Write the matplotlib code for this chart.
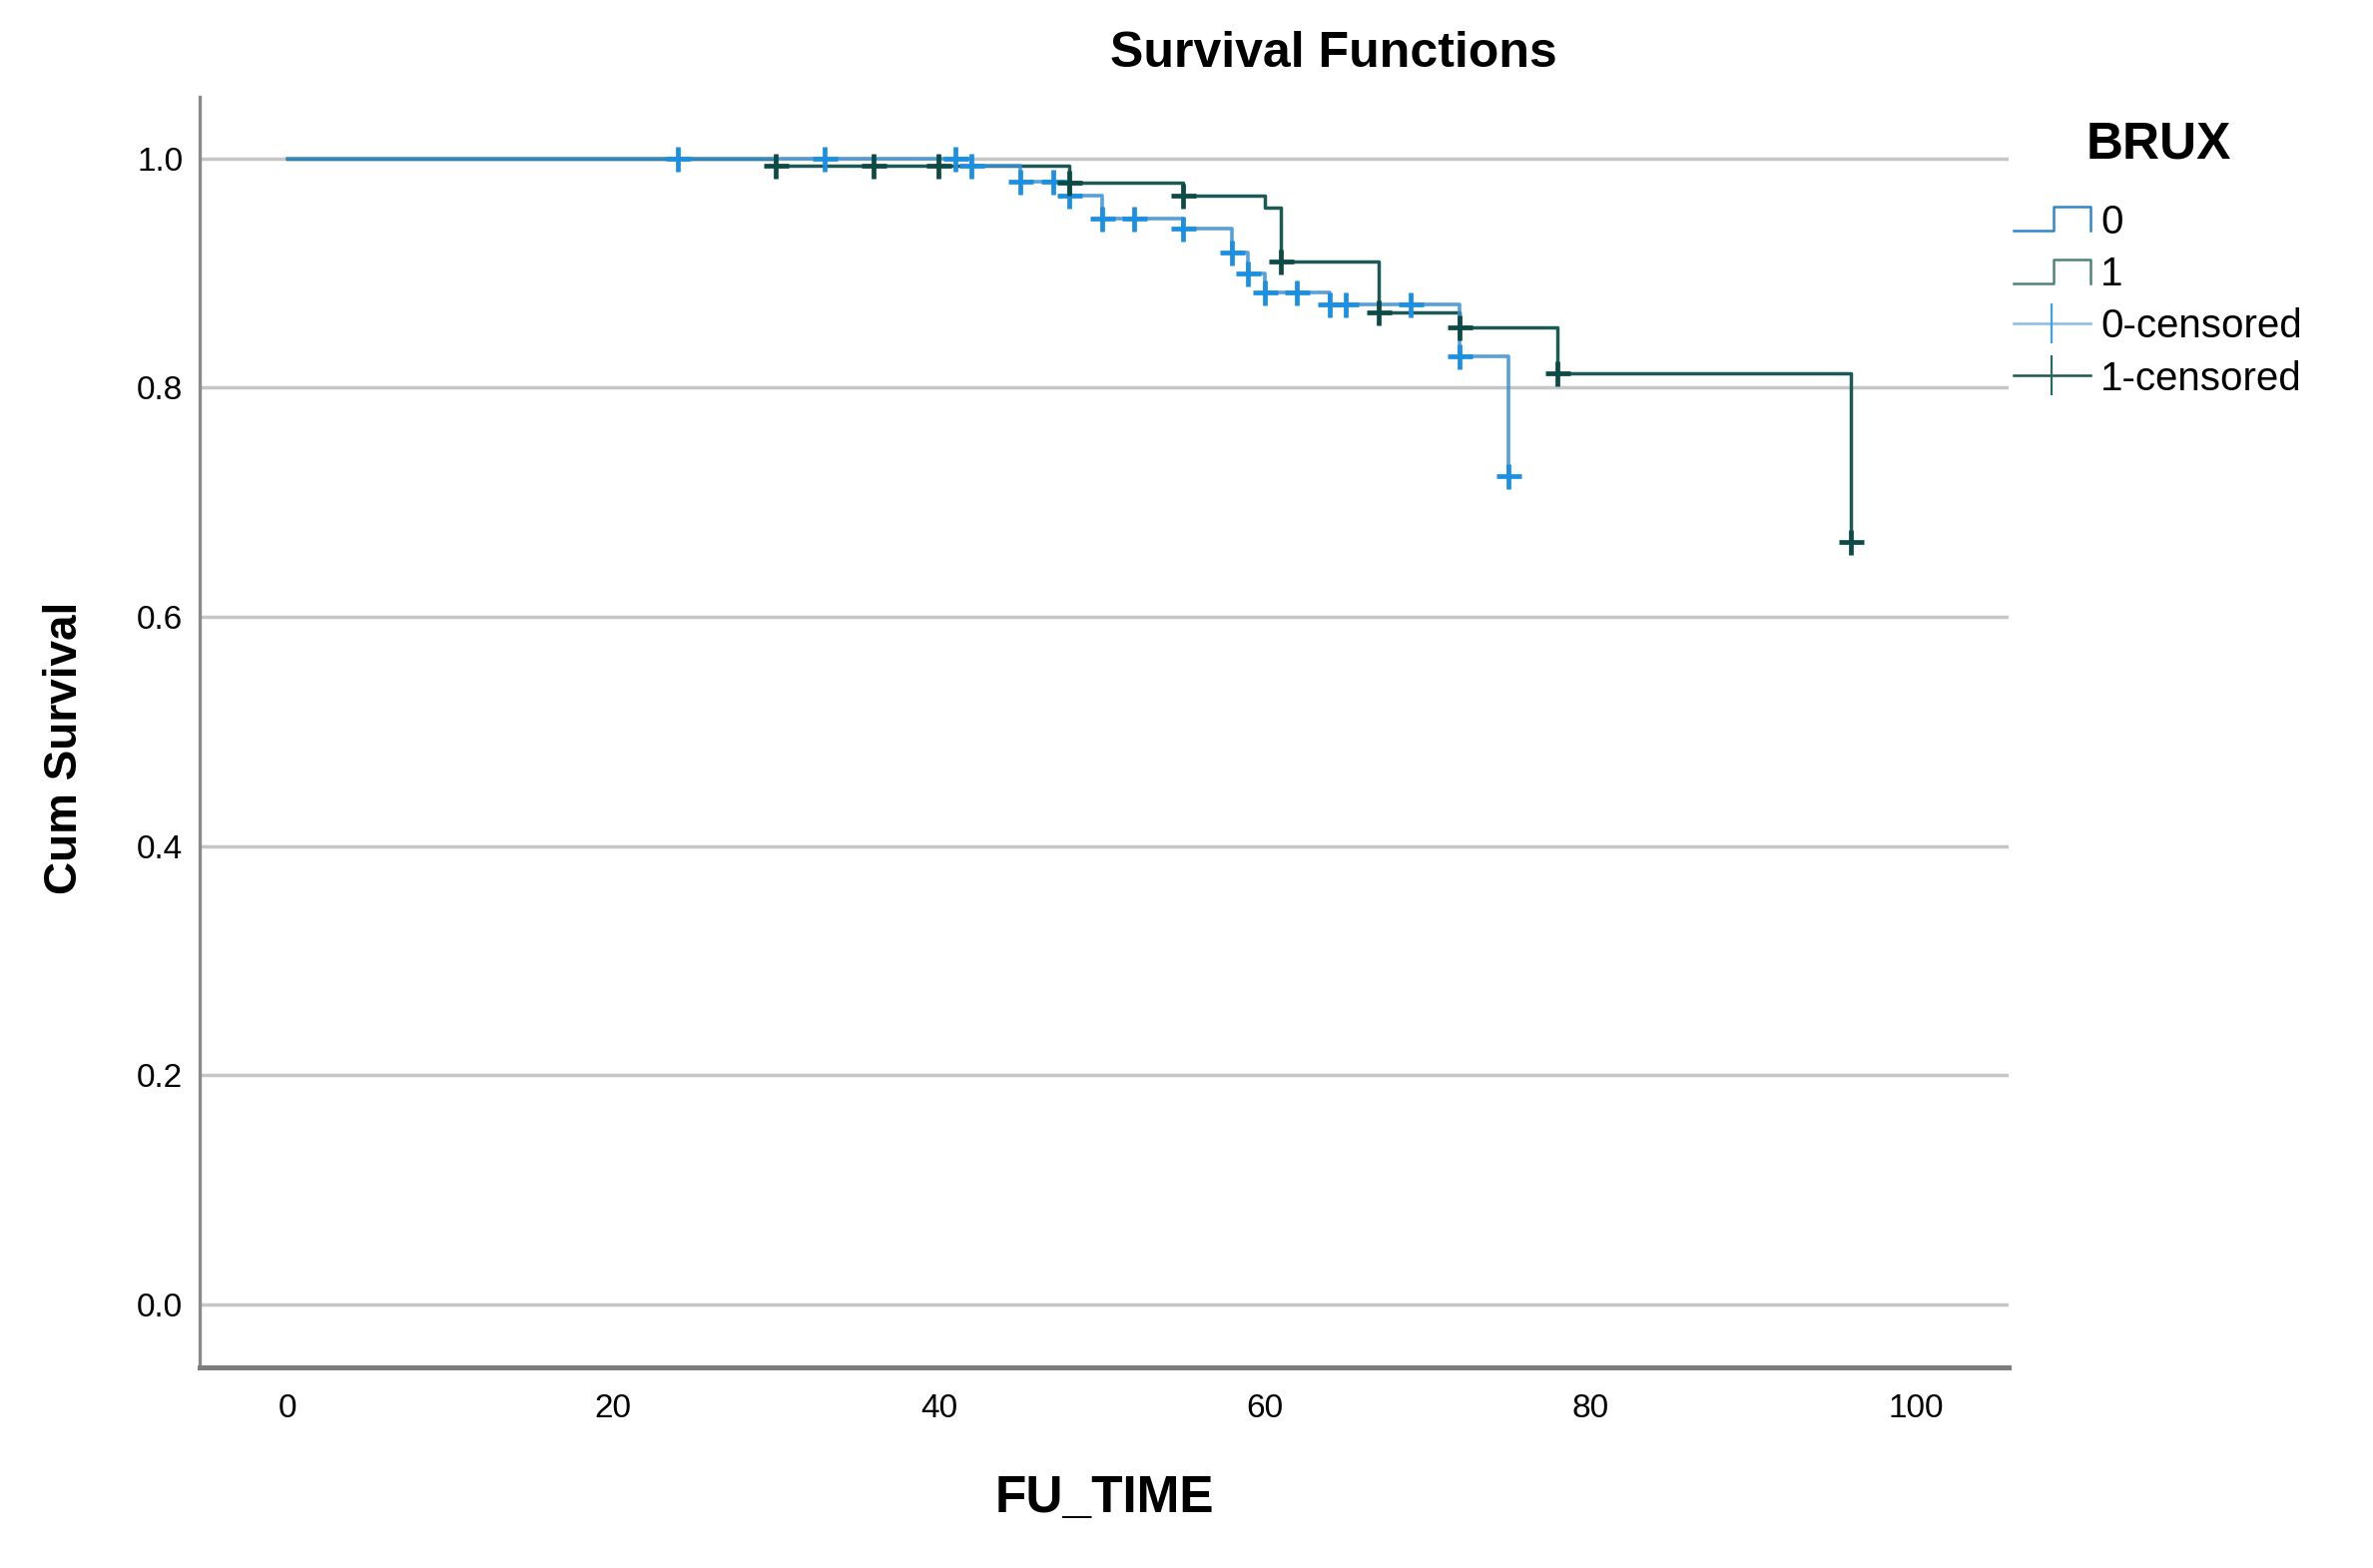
import numpy as np
import matplotlib
matplotlib.use('Agg')
import matplotlib.pyplot as plt
from matplotlib.lines import Line2D
from matplotlib.legend_handler import HandlerBase

tiempo_0 = [0, 42, 45, 48, 50, 55, 58, 59, 60, 64, 72, 75]
superv_0 = [1.0, 0.994, 0.980, 0.968, 0.948, 0.939, 0.918, 0.900, 0.883, 0.873, 0.827, 0.723]
censura_0 = [24, 33, 41, 42, 45, 47, 48, 50, 52, 55, 58, 59, 60, 62, 64, 65, 69, 72, 75]

tiempo_1 = [0, 30, 48, 55, 60, 61, 67, 72, 78, 96]
superv_1 = [1.0, 0.994, 0.979, 0.968, 0.957, 0.910, 0.866, 0.853, 0.813, 0.665]
censura_1 = [30, 36, 40, 48, 55, 61, 67, 72, 78, 96]

ticks_x = [0, 20, 40, 60, 80, 100]
ticks_y = [0.0, 0.2, 0.4, 0.6, 0.8, 1.0]
etiquetas = ['0', '1', '0-censored', '1-censored']

azul_linea = '#3a90d4'
azul_marca = '#1b8fe2'
verde_linea = '#1d5a56'
verde_marca = '#0c4a45'

plt.rcParams['font.family'] = ['Liberation Sans', 'DejaVu Sans']


def valor_en(tiempos, valores, t):
    # valor de la curva escalonada en el tiempo t
    idx = np.searchsorted(tiempos, t, side='right') - 1
    return np.array(valores)[idx]


class HandlerEscalon(HandlerBase):
    # dibuja el simbolo de escalon de la leyenda al estilo SPSS
    def create_artists(self, legend, orig_handle, xdescent, ydescent,
                       width, height, fontsize, trans):
        x0 = -xdescent
        bajo = -ydescent + 0.1 * height
        alto = -ydescent + 0.95 * height
        xs = [x0, x0 + 0.52 * width, x0 + 0.52 * width, x0 + width, x0 + width]
        ys = [bajo, bajo, alto, alto, bajo]
        linea = Line2D(xs, ys, color=orig_handle.get_color(),
                       lw=orig_handle.get_linewidth(), transform=trans)
        return [linea]


fig = plt.figure(figsize=(23.77, 15.71), dpi=100)
ax = fig.add_axes([0.0841, 0.128, 0.7624, 0.8103])

# lineas de la cuadricula
for yv in ticks_y:
    ax.axhline(yv, color='#c6c6c6', lw=2.5, zorder=1)

# curvas de supervivencia
ax.step(tiempo_1, superv_1, where='post', color=verde_linea, lw=2.5, zorder=3)
ax.step(tiempo_0, superv_0, where='post', color=azul_linea, lw=2.6, alpha=0.85, zorder=4)

# marcas de censura
ax.plot(censura_0, valor_en(tiempo_0, superv_0, censura_0), linestyle='none',
        marker='+', markersize=18, markeredgewidth=3.4, color=azul_marca, zorder=5)
ax.plot(censura_1, valor_en(tiempo_1, superv_1, censura_1), linestyle='none',
        marker='+', markersize=18, markeredgewidth=3.4, color=verde_marca, zorder=6)

ax.set_xlim(-5.4, 105.7)
ax.set_ylim(-0.055, 1.054)
ax.set_xticks(ticks_x)
ax.set_yticks(ticks_y)
ax.set_yticklabels(['%.1f' % v for v in ticks_y])
ax.tick_params(axis='both', length=0, labelsize=24)
ax.tick_params(axis='x', pad=19)
ax.tick_params(axis='y', pad=12)

ax.spines['top'].set_visible(False)
ax.spines['right'].set_visible(False)
ax.spines['left'].set_color('#8a8a8a')
ax.spines['left'].set_linewidth(2.4)
ax.spines['bottom'].set_color('#7d7d7d')
ax.spines['bottom'].set_linewidth(3.6)

# textos
fig.text(0.562, 0.9656, 'Survival Functions', ha='center', va='center',
         fontsize=36, fontweight='bold')
fig.text(0.0841 + 0.7624 / 2, 0.044, 'FU_TIME', ha='center', va='center',
         fontsize=37, fontweight='bold')
fig.text(0.0275, 0.523, 'Cum Survival', ha='center', va='center', rotation=90,
         fontsize=33, fontweight='bold')
fig.text(0.9098, 0.9077, 'BRUX', ha='center', va='center',
         fontsize=37, fontweight='bold')

# leyenda
manejadores = [
    Line2D([], [], color='#2f86c8', lw=1.8),
    Line2D([], [], color='#4e8478', lw=1.8),
    Line2D([], [], color='#8bbbe2', lw=1.8, marker='|', markersize=29,
           markeredgewidth=1.6, markeredgecolor='#3ea0e8'),
    Line2D([], [], color='#1f5550', lw=1.8, marker='|', markersize=29,
           markeredgewidth=1.6, markeredgecolor='#2a6a62'),
]
ley = fig.legend(manejadores, etiquetas, loc='upper left',
                 bbox_to_anchor=(0.8485, 0.870), frameon=False, fontsize=29,
                 handlelength=1.91, handletextpad=0.25, labelspacing=0.35,
                 borderpad=0, borderaxespad=0, markerscale=1,
                 handler_map={manejadores[0]: HandlerEscalon(),
                              manejadores[1]: HandlerEscalon()})

fig.savefig('out.png', dpi=100)
